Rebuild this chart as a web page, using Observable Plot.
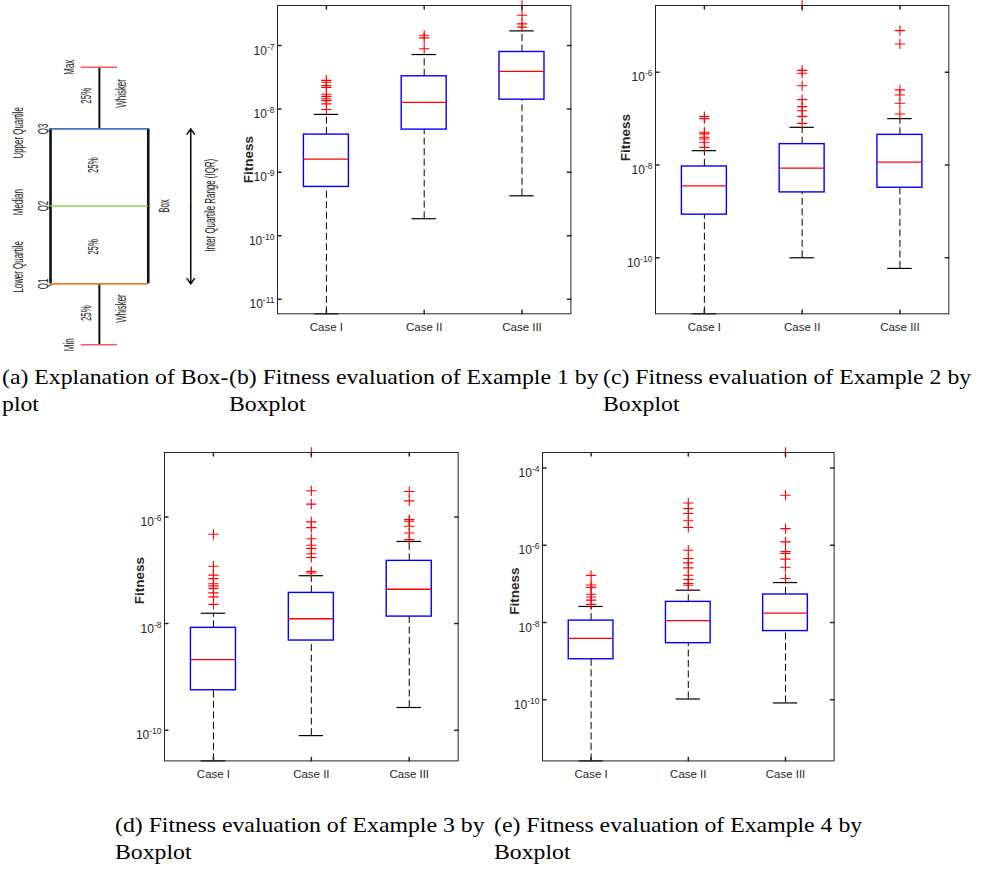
<!DOCTYPE html>
<html><head><meta charset="utf-8">
<script src="https://cdn.jsdelivr.net/npm/d3@7"></script>
<script src="https://cdn.jsdelivr.net/npm/@observablehq/plot@0.6"></script>
<style>
html,body{margin:0;padding:0;background:#fff}
body{width:986px;height:870px;position:relative;overflow:hidden}
.panel{position:absolute}
.cap{position:absolute;font-family:"Liberation Serif","Times New Roman",serif;font-size:22px;line-height:26.5px;white-space:nowrap;transform:scaleX(1.08);transform-origin:0 0;color:#000}
</style></head><body>
<script>
// ---------- shared ----------
const cases = ["Case I", "Case II", "Case III"];

// ---------- (a) explanation diagram ----------
const diagramStats  = ["Min", "Q1", "Q2", "Q3", "Max"];
const diagramLevels = [0, 0.79, 1.8, 2.8, 3.6];
const diagramColors = ["#ff5a5a", "#ed7d31", "#92d050", "#4472c4", "#ff5a5a"];
const diagramTexts  = ["Max", "25%", "Whisker", "Upper Quartile", "Q3", "25%", "Median", "Q2", "Box", "25%", "Lower Quartile", "Q1", "Inter Quartile Range (IQR)", "25%", "Whisker", "Min"];
const diagramTextCol = [0.19, 0.37, 0.72, -0.33, -0.075, 0.44, -0.33, -0.075, 1.16, 0.44, -0.33, -0.075, 1.63, 0.37, 0.72, 0.19];
const diagramTextLvl = [3.6, 3.23, 3.26, 2.75, 2.8, 2.33, 1.85, 1.8, 1.8, 1.27, 1.01, 0.79, 1.81, 0.41, 0.47, 0];

// ---------- (b) Example 1 ----------
const ex1Lower  = [5.9e-12, 1.86e-10, 4.27e-10];
const ex1Q1     = [5.9e-10, 4.72e-9, 1.40e-8];
const ex1Median = [1.62e-9, 1.27e-8, 3.9e-8];
const ex1Q3     = [3.94e-9, 3.27e-8, 7.9e-8];
const ex1Upper  = [8.2e-9, 7.2e-8, 1.70e-7];
const ex1Outliers = [
  [2.82e-8, 2.63e-8, 2.34e-8, 2.19e-8, 1.70e-8, 1.58e-8, 1.45e-8, 1.35e-8, 1.20e-8, 9.8e-9],
  [1.45e-7, 1.32e-7, 8.9e-8],
  [4.27e-7, 3.0e-7, 2.19e-7, 1.95e-7]
];
const ex1Ticks = [1e-11, 1e-10, 1e-9, 1e-8, 1e-7];

// ---------- (c) Example 2 ----------
const ex2Lower  = [6.2e-12, 1.0e-10, 5.9e-11];
const ex2Q1     = [8.5e-10, 2.57e-9, 3.24e-9];
const ex2Median = [3.55e-9, 8.6e-9, 1.16e-8];
const ex2Q3     = [9.3e-9, 2.82e-8, 4.47e-8];
const ex2Upper  = [2.04e-8, 6.5e-8, 1.0e-7];
const ex2Outliers = [
  [1.11e-7, 1.0e-7, 5.1e-8, 4.7e-8, 3.98e-8, 3.63e-8, 3.09e-8, 2.4e-8],
  [2.75e-5, 1.10e-6, 9.5e-7, 5.1e-7, 2.57e-7, 1.82e-7, 1.48e-7, 1.12e-7, 7.9e-8],
  [7.9e-6, 4.07e-6, 4.17e-7, 3.24e-7, 2.14e-7, 1.26e-7]
];
const ex2Ticks = [1e-10, 1e-8, 1e-6];

// ---------- (d) Example 3 ----------
const ex3Lower  = [2.65e-11, 7.9e-11, 2.66e-10];
const ex3Q1     = [5.6e-10, 4.8e-9, 1.35e-8];
const ex3Median = [2.11e-9, 1.23e-8, 4.4e-8];
const ex3Q3     = [8.3e-9, 3.76e-8, 1.50e-7];
const ex3Upper  = [1.56e-8, 7.9e-8, 3.47e-7];
const ex3Outliers = [
  [4.73e-7, 1.19e-7, 8.1e-8, 6.98e-8, 5.6e-8, 5.1e-8, 4.57e-8, 3.76e-8, 3.16e-8, 2.29e-8],
  [1.62e-5, 3.1e-6, 1.74e-6, 8.1e-7, 6.3e-7, 3.9e-7, 2.95e-7, 2.57e-7, 2.04e-7, 1.74e-7, 9.5e-8, 8.9e-8],
  [3.0e-6, 2.0e-6, 8.9e-7, 8.3e-7, 6.7e-7, 5.0e-7, 3.76e-7]
];
const ex3Ticks = [1e-10, 1e-8, 1e-6];

// ---------- (e) Example 4 ----------
const ex4Lower  = [2.63e-12, 1.05e-10, 8.3e-11];
const ex4Q1     = [1.12e-9, 2.92e-9, 6.0e-9];
const ex4Median = [3.9e-9, 1.12e-8, 1.74e-8];
const ex4Q3     = [1.12e-8, 3.42e-8, 5.3e-8];
const ex4Upper  = [2.6e-8, 6.86e-8, 1.08e-7];
const ex4Outliers = [
  [1.66e-7, 9.3e-8, 8.1e-8, 5.4e-8, 4.57e-8, 3.8e-8, 2.95e-8],
  [1.24e-5, 8.9e-6, 6.6e-6, 4.27e-6, 2.88e-6, 7.4e-7, 4.52e-7, 3.49e-7, 2.59e-7, 1.67e-7, 1.29e-7, 1.02e-7, 9.2e-8],
  [2.5e-4, 1.96e-5, 2.69e-6, 1.22e-6, 6.8e-7, 6.1e-7, 4.37e-7, 2.69e-7, 1.38e-7]
];
const ex4Ticks = [1e-10, 1e-8, 1e-6, 1e-4];

const yLabel = "Fitness";
const captions = [
  ["(a) Explanation of Box-", "plot"],
  ["(b) Fitness evaluation of Example 1 by", "Boxplot"],
  ["(c) Fitness evaluation of Example 2 by", "Boxplot"],
  ["(d) Fitness evaluation of Example 3 by", "Boxplot"],
  ["(e) Fitness evaluation of Example 4 by", "Boxplot"]
];

// ---------- helpers ----------
const SVGNS = "http://www.w3.org/2000/svg";
const tickShape = {draw(ctx, l) { ctx.moveTo(0, 0); ctx.lineTo(0, -l); }};
const AX = "#262626";

function place(node, left, top) {
  const div = document.createElement("div");
  div.className = "panel";
  div.style.left = left + "px";
  div.style.top = top + "px";
  div.appendChild(node);
  document.body.appendChild(div);
  return div;
}

function boxPanel(cfg) {
  const rows = cases.map((c, k) => ({
    i: k + 1, lw: cfg.lower[k], q1: cfg.q1[k], med: cfg.median[k], q3: cfg.q3[k], uw: cfg.upper[k]
  }));
  const outs = cfg.outliers.flatMap((arr, k) => arr.map(v => ({i: k + 1, v})));
  const domain = [d3.min(cfg.lower), d3.max([...cfg.upper, ...cfg.outliers.flat()])];
  const W = cfg.frame[1] - cfg.frame[0], H = cfg.frame[3] - cfg.frame[2];
  const ML = 60, MR = 10, MT = 5, MB = 30;
  const half = 0.23, capHalf = 0.125;
  const dash = "7,3.5";
  const plot = Plot.plot({
    width: W + ML + MR, height: H + MT + MB,
    marginLeft: ML, marginRight: MR, marginTop: MT, marginBottom: MB,
    x: {type: "linear", domain: [0.5, 3.5]},
    y: {type: "log", domain},
    style: {fontFamily: "'Liberation Sans', Arial, sans-serif", fontSize: "11.5px", color: AX, background: "transparent", overflow: "visible", maxWidth: "none"},
    marks: [
      Plot.ruleX(rows, {x: "i", y1: "q3", y2: "uw", stroke: "#000", strokeWidth: 1, strokeDasharray: dash}),
      Plot.ruleX(rows, {x: "i", y1: "lw", y2: "q1", stroke: "#000", strokeWidth: 1, strokeDasharray: dash}),
      Plot.ruleY(rows, {y: "uw", x1: d => d.i - capHalf, x2: d => d.i + capHalf, stroke: "#000", strokeWidth: 1.2}),
      Plot.ruleY(rows, {y: "lw", x1: d => d.i - capHalf, x2: d => d.i + capHalf, stroke: "#000", strokeWidth: 1.2}),
      Plot.rect(rows, {x1: d => d.i - half, x2: d => d.i + half, y1: "q1", y2: "q3", fill: "none", stroke: "#0000ff", strokeWidth: 1.4}),
      Plot.ruleY(rows, {y: "med", x1: d => d.i - half, x2: d => d.i + half, stroke: "#ff0000", strokeWidth: 1.3}),
      Plot.dot(outs, {x: "i", y: "v", symbol: "plus", r: 3.4, stroke: "#ff0000", strokeWidth: 1.1}),
      Plot.frame({stroke: AX, strokeWidth: 1}),
      Plot.vector(cfg.ticks, {y: d => d, frameAnchor: "left", rotate: 90, length: 3.5, anchor: "start", shape: tickShape, stroke: AX}),
      Plot.vector(cfg.ticks, {y: d => d, frameAnchor: "right", rotate: -90, length: 3.5, anchor: "start", shape: tickShape, stroke: AX}),
      Plot.vector([1, 2, 3], {x: d => d, frameAnchor: "bottom", rotate: 0, length: 3.5, anchor: "start", shape: tickShape, stroke: AX}),
      Plot.vector([1, 2, 3], {x: d => d, frameAnchor: "top", rotate: 180, length: 3.5, anchor: "start", shape: tickShape, stroke: AX}),
      Plot.axisY(cfg.ticks, {anchor: "left", tickSize: 0, tickPadding: 3, label: null, fill: AX, fontSize: 12,
        tickFormat: d => "10^" + Math.round(Math.log10(d))}),
      Plot.axisX([1, 2, 3], {anchor: "bottom", tickSize: 0, tickPadding: 9, label: null, fill: AX,
        tickFormat: d => cases[d - 1]}),
      Plot.text([yLabel], {text: d => d, frameAnchor: "left", textAnchor: "middle", lineAnchor: "middle",
        rotate: -90, dx: cfg.labelDx, dy: cfg.labelDy, fontWeight: "bold", fontSize: 13.5, fill: AX})
    ]
  });
  // superscript exponents on the log tick labels
  plot.querySelectorAll('g[aria-label="y-axis tick label"] text').forEach(t => {
    const [b, e] = t.textContent.split("^");
    t.textContent = b;
    t.setAttribute("dy", "0.44em");
    const ts = document.createElementNS(SVGNS, "tspan");
    ts.setAttribute("dy", "-5");
    ts.setAttribute("font-size", "8.5");
    ts.textContent = e;
    t.appendChild(ts);
  });
  place(plot, cfg.frame[0] - ML, cfg.frame[2] - MT);
}

// ---------- panel (a) ----------
(function () {
  const lv = Object.fromEntries(diagramStats.map((s, k) => [s, diagramLevels[k]]));
  const edges = diagramStats.map((s, k) => ({s, y: diagramLevels[k], c: diagramColors[k],
    cap: s === "Min" || s === "Max"}));
  const texts = diagramTexts.map((t, k) => ({t, x: diagramTextCol[k], y: diagramTextLvl[k]}));
  const mid = (lv.Q1 + lv.Q3) / 2;
  const plot = Plot.plot({
    width: 230, height: 310, marginLeft: 0, marginRight: 0, marginTop: 16.7, marginBottom: 15.7,
    x: {type: "linear", domain: [-0.512, 1.842], axis: null},
    y: {type: "linear", domain: [0, 3.6], axis: null},
    style: {fontFamily: "'Liberation Sans Narrow', 'Liberation Sans', Arial, sans-serif", fontSize: "15px", color: "#222", background: "transparent", overflow: "visible", maxWidth: "none"},
    marks: [
      Plot.ruleX([0.5], {x: d => d, y1: lv.Q3, y2: lv.Max, stroke: "#111", strokeWidth: 2}),
      Plot.ruleX([0.5], {x: d => d, y1: lv.Min, y2: lv.Q1, stroke: "#111", strokeWidth: 2}),
      Plot.ruleX([0, 1], {x: d => d, y1: lv.Q1, y2: lv.Q3, stroke: "#111", strokeWidth: 2.6}),
      Plot.ruleY(edges.filter(d => !d.cap), {y: "y", x1: 0, x2: 1, stroke: "c", strokeWidth: 1.6}),
      Plot.ruleY(edges.filter(d => d.cap), {y: "y", x1: 0.314, x2: 0.686, stroke: "c", strokeWidth: 1.6}),
      Plot.arrow([lv.Q3, lv.Q1], {x1: 1.435, x2: 1.435, y1: mid, y2: d => d, stroke: "#111", strokeWidth: 1.6, headLength: 6, headAngle: 70}),
      Plot.text(texts, {x: "x", y: "y", text: "t", rotate: -90, textAnchor: "middle", lineAnchor: "middle", fill: "#222"})
    ]
  });
  place(plot, 0, 50);
  const texEls = [...plot.querySelectorAll('g[aria-label="text"] text')];
  const ref = texEls.find(t => t.textContent === "Inter Quartile Range (IQR)");
  const s = 93 / ref.getComputedTextLength();
  texEls.forEach(t => t.setAttribute("transform", t.getAttribute("transform") + ` scale(${s},1)`));
})();

// ---------- panels (b)–(e) ----------
boxPanel({frame: [277.3, 570.7, 5, 313.3], lower: ex1Lower, q1: ex1Q1, median: ex1Median, q3: ex1Q3, upper: ex1Upper, outliers: ex1Outliers, ticks: ex1Ticks, labelDx: -29, labelDy: 0});
boxPanel({frame: [655, 948.3, 5, 313.3], lower: ex2Lower, q1: ex2Q1, median: ex2Median, q3: ex2Q3, upper: ex2Upper, outliers: ex2Outliers, ticks: ex2Ticks, labelDx: -30, labelDy: -22});
boxPanel({frame: [164, 457.7, 452.3, 760.7], lower: ex3Lower, q1: ex3Q1, median: ex3Median, q3: ex3Q3, upper: ex3Upper, outliers: ex3Outliers, ticks: ex3Ticks, labelDx: -25, labelDy: -26});
boxPanel({frame: [541.7, 833.3, 452.3, 760.7], lower: ex4Lower, q1: ex4Q1, median: ex4Median, q3: ex4Q3, upper: ex4Upper, outliers: ex4Outliers, ticks: ex4Ticks, labelDx: -27.5, labelDy: -15.5});

// ---------- captions ----------
const capPos = [[2, 364], [229, 364], [603, 364], [115, 812], [494, 812]];
captions.forEach((lines, k) => {
  const d = document.createElement("div");
  d.className = "cap";
  d.style.left = capPos[k][0] + "px";
  d.style.top = capPos[k][1] + "px";
  lines.forEach((ln, j) => { if (j) d.appendChild(document.createElement("br")); d.appendChild(document.createTextNode(ln)); });
  document.body.appendChild(d);
});
</script>
</body></html>
